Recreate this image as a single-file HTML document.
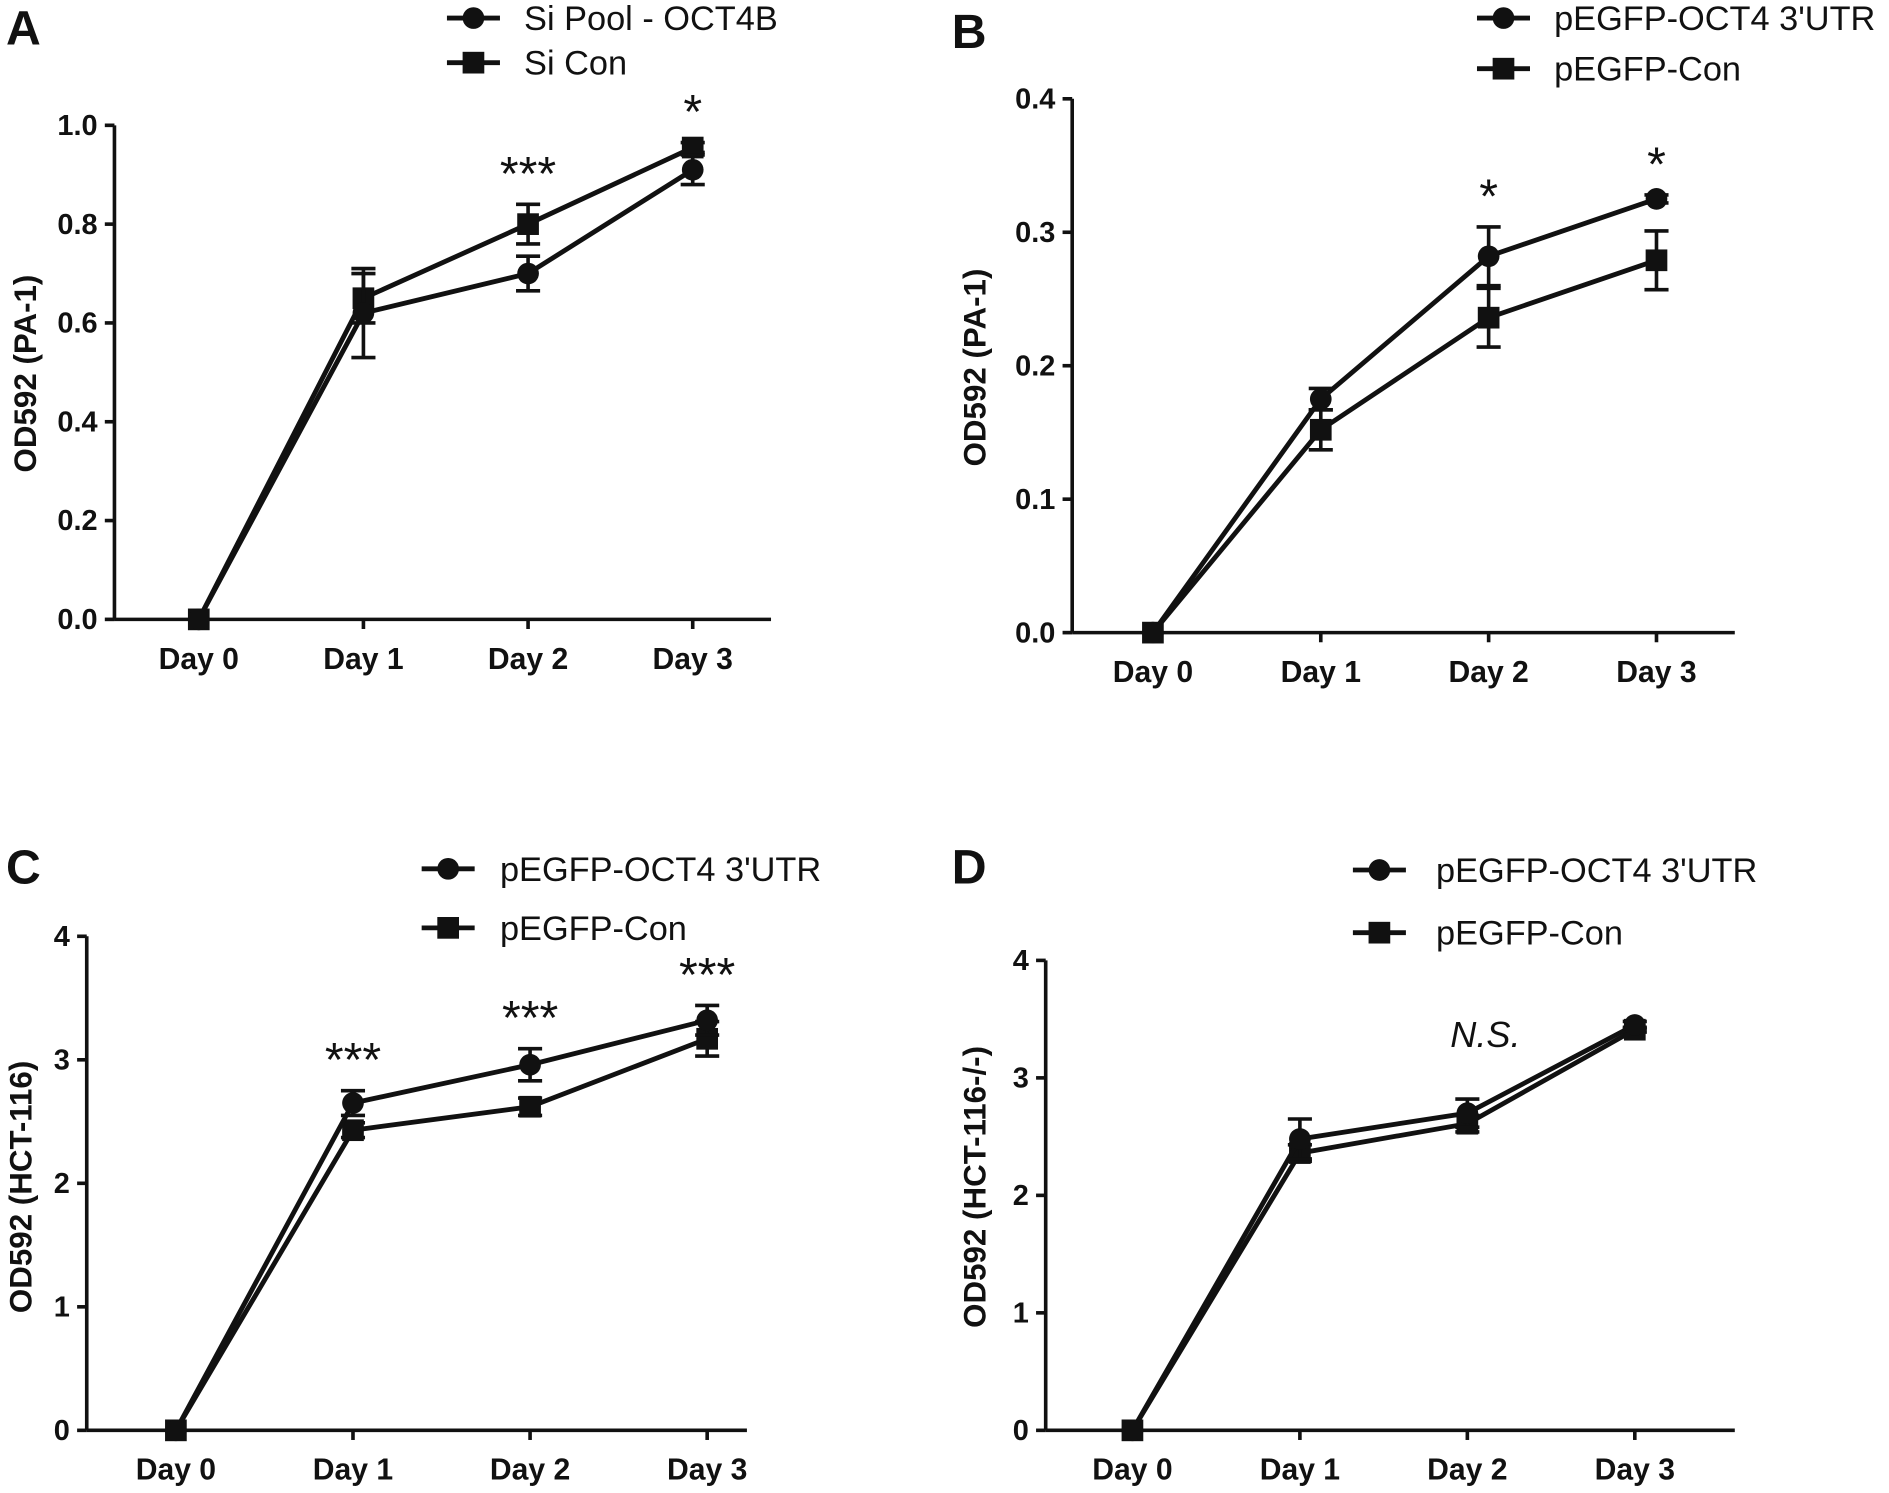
<!DOCTYPE html>
<html><head><meta charset="utf-8">
<style>
html,body{margin:0;padding:0;background:#fff;}
svg{display:block;}
text{font-family:"Liberation Sans",Arial,sans-serif;fill:#111;}
</style></head>
<body>
<svg id="fig" width="1889" height="1493" viewBox="0 0 1568 1239" preserveAspectRatio="none" xmlns="http://www.w3.org/2000/svg"></svg>
<script>
const categories = ["Day 0","Day 1","Day 2","Day 3"];
// Panel A
const aCircle = [0, 0.62, 0.70, 0.91];
const aCircleErr = [0, 0.09, 0.035, 0.03];
const aSquare = [0, 0.65, 0.80, 0.955];
const aSquareErr = [0, 0.05, 0.04, 0.01];
const aTicks = [0, 0.2, 0.4, 0.6, 0.8, 1.0];
const aTickLabels = ["0.0","0.2","0.4","0.6","0.8","1.0"];
const aStars = ["", "", "***", "*"];
// Panel B
const bCircle = [0, 0.175, 0.282, 0.325];
const bCircleErr = [0, 0.008, 0.022, 0.003];
const bSquare = [0, 0.152, 0.236, 0.279];
const bSquareErr = [0, 0.015, 0.022, 0.022];
const bTicks = [0, 0.1, 0.2, 0.3, 0.4];
const bTickLabels = ["0.0","0.1","0.2","0.3","0.4"];
const bStars = ["", "", "*", "*"];
// Panel C
const cCircle = [0, 2.65, 2.96, 3.32];
const cCircleErr = [0, 0.1, 0.13, 0.12];
const cSquare = [0, 2.43, 2.62, 3.17];
const cSquareErr = [0, 0.06, 0.07, 0.14];
const cTicks = [0, 1, 2, 3, 4];
const cTickLabels = ["0","1","2","3","4"];
const cStars = ["", "***", "***", "***"];
// Panel D
const dCircle = [0, 2.48, 2.70, 3.45];
const dCircleErr = [0, 0.17, 0.12, 0.03];
const dSquare = [0, 2.36, 2.61, 3.41];
const dSquareErr = [0, 0.07, 0.07, 0.02];
const dTicks = [0, 1, 2, 3, 4];
const dTickLabels = ["0","1","2","3","4"];

const NS = "http://www.w3.org/2000/svg";
const svg = document.getElementById("fig");
function el(tag, attrs, parent, txt){
  const e = document.createElementNS(NS, tag);
  for (const k in attrs) e.setAttribute(k, attrs[k]);
  if (txt !== undefined) e.textContent = txt;
  (parent || svg).appendChild(e);
  return e;
}

function panel(p){
  const g = el("g", {});
  
  
  const y = v => p.y0 - (v - p.ymin) / (p.ymax - p.ymin) * (p.y0 - p.y1);
  const x = i => p.xs[0] + i * (p.xs[1] - p.xs[0]) / (categories.length - 1);
  const ya = el("line", {x1:p.ax, y1:p.y1, x2:p.ax, y2:p.y0, stroke:"#111","stroke-width":3}, g);
  
  
  const xa = el("line", {x1:p.ax, y1:p.y0, x2:p.axEnd, y2:p.y0, stroke:"#111","stroke-width":3}, g);
  
  
  p.ticks.forEach((t, i) => {
    el("line", {x1:p.ax-8, y1:y(t), x2:p.ax, y2:y(t), stroke:"#111","stroke-width":3}, g);
    const tl = el("text", {x:p.ax-14, y:y(t)+8, "text-anchor":"end","font-size":24,"font-weight":"bold"}, g, p.tickLabels[i]);
    
    
  });
  categories.forEach((c, i) => {
    el("line", {x1:x(i), y1:p.y0, x2:x(i), y2:p.y0+8, stroke:"#111","stroke-width":3}, g);
    const tl = el("text", {x:x(i), y:p.y0+41, "text-anchor":"middle","font-size":25,"font-weight":"bold"}, g, c);
    
    
  });
  const yt = el("text", {x:0, y:0, transform:`translate(${p.ytx},${p.yty}) rotate(-90)`, "text-anchor":"middle","font-size":26,"font-weight":"bold"}, g, p.ytitle);
  
  
  const pl = el("text", {x:p.lx, y:p.ly, "font-size":40,"font-weight":"bold"}, g, p.letter);
  
  
  [[p.sq, p.sqErr, "square"], [p.ci, p.ciErr, "circle"]].forEach(([vals, errs, shape]) => {
    const pts = vals.map((v, i) => `${x(i)},${y(v)}`).join(" ");
    const ln = el("polyline", {points:pts, fill:"none", stroke:"#111","stroke-width":4}, g);
    
    
    vals.forEach((v, i) => {
      if (errs[i] > 0) {
        const e1 = y(v + errs[i]), e2 = y(v - errs[i]);
        el("line", {x1:x(i), y1:e1, x2:x(i), y2:e2, stroke:"#111","stroke-width":3}, g);
        el("line", {x1:x(i)-10, y1:e1, x2:x(i)+10, y2:e1, stroke:"#111","stroke-width":3}, g);
        el("line", {x1:x(i)-10, y1:e2, x2:x(i)+10, y2:e2, stroke:"#111","stroke-width":3}, g);
      }
      let m;
      if (shape === "circle") m = el("circle", {cx:x(i), cy:y(v), r:9, fill:"#111"}, g);
      else m = el("rect", {x:x(i)-9, y:y(v)-9, width:18, height:18, fill:"#111"}, g);
      
      
    });
  });
  if (p.stars) p.stars.forEach((s, i) => {
    if (!s) return;
    const top = Math.max(p.ci[i] + p.ciErr[i], p.sq[i] + p.sqErr[i]);
    const st = el("text", {x:x(i), y:y(top) - 12, "text-anchor":"middle","font-size":40}, g, s);
    
    
  });
  p.legend.forEach((lg, k) => {
    const ly = p.legY[k];
    const lgG = el("g", {}, g);
    
    
    el("line", {x1:p.legX-22, y1:ly, x2:p.legX+22, y2:ly, stroke:"#111","stroke-width":4}, lgG);
    if (k === 0) el("circle", {cx:p.legX, cy:ly, r:9, fill:"#111"}, lgG);
    else el("rect", {x:p.legX-9, y:ly-9, width:18, height:18, fill:"#111"}, lgG);
    el("text", {x:p.legTx, y:ly+10, "font-size":p.legFs}, lgG, lg);
  });
  if (p.ns) {
    const t = el("text", {x:p.ns[0], y:p.ns[1], "text-anchor":"middle","font-size":30,"font-style":"italic"}, g, "N.S.");
    
    
  }
}

panel({name:"panel-a", letter:"A", lx:5, ly:37, ax:95, axEnd:640, y0:514, y1:104, ymin:0, ymax:1,
  xs:[165,575], ticks:aTicks, tickLabels:aTickLabels, ci:aCircle, ciErr:aCircleErr, sq:aSquare, sqErr:aSquareErr,
  stars:aStars, ytitle:"OD592 (PA-1)", ytx:30, yty:310,
  legend:["Si Pool - OCT4B","Si Con"], legX:393, legY:[15,52], legTx:435, legFs:28.5});
panel({name:"panel-b", letter:"B", lx:790, ly:40, ax:890, axEnd:1440, y0:525, y1:82, ymin:0, ymax:0.4,
  xs:[957,1375], ticks:bTicks, tickLabels:bTickLabels, ci:bCircle, ciErr:bCircleErr, sq:bSquare, sqErr:bSquareErr,
  stars:bStars, ytitle:"OD592 (PA-1)", ytx:818, yty:305,
  legend:["pEGFP-OCT4 3'UTR","pEGFP-Con"], legX:1248, legY:[15,57], legTx:1290, legFs:28.5});
panel({name:"panel-c", letter:"C", lx:5, ly:733, ax:72, axEnd:620, y0:1187, y1:777, ymin:0, ymax:4,
  xs:[146,587], ticks:cTicks, tickLabels:cTickLabels, ci:cCircle, ciErr:cCircleErr, sq:cSquare, sqErr:cSquareErr,
  stars:cStars, ytitle:"OD592 (HCT-116)", ytx:26, yty:985,
  legend:["pEGFP-OCT4 3'UTR","pEGFP-Con"], legX:372, legY:[721,770], legTx:415, legFs:28.5});
panel({name:"panel-d", letter:"D", lx:790, ly:733, ax:868, axEnd:1440, y0:1187, y1:797, ymin:0, ymax:4,
  xs:[940,1357], ticks:dTicks, tickLabels:dTickLabels, ci:dCircle, ciErr:dCircleErr, sq:dSquare, sqErr:dSquareErr,
  stars:null, ytitle:"OD592 (HCT-116-/-)", ytx:818, yty:985, ns:[1233,869],
  legend:["pEGFP-OCT4 3'UTR","pEGFP-Con"], legX:1145, legY:[722,774], legTx:1192, legFs:28.5});
</script>
</body></html>
